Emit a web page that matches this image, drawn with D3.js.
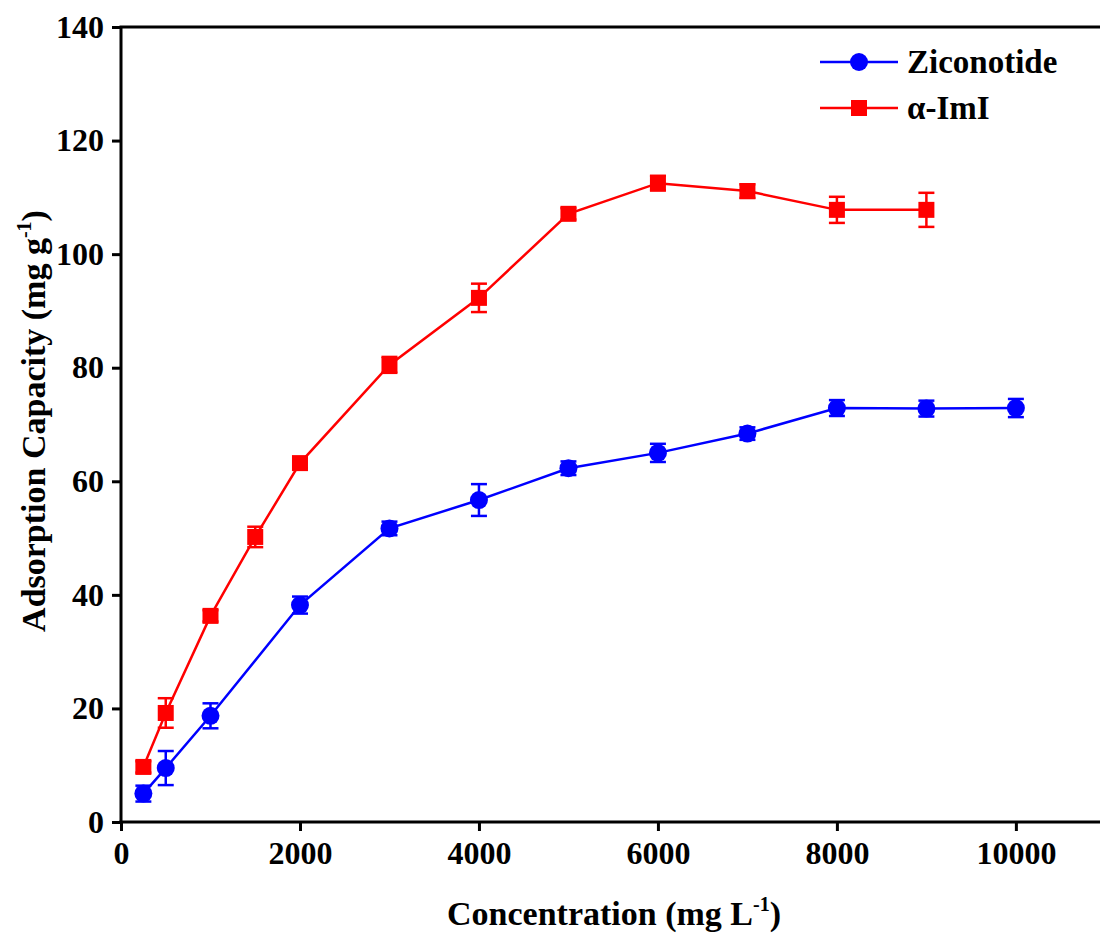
<!DOCTYPE html>
<html>
<head>
<meta charset="utf-8">
<script src="https://cdn.jsdelivr.net/npm/d3@7"></script>
<style>
  body { margin: 0; background: #fff; }
  svg text { font-family: "Liberation Serif", "Times New Roman", serif; font-weight: bold; fill: #000; }
</style>
</head>
<body>
<div id="chart"></div>
<script>
// Data
const zicoX = [250, 500, 1000, 2000, 3000, 4000, 5000, 6000, 7000, 8000, 9000, 10000];
const zicoY = [5.0, 9.5, 18.7, 38.2, 51.7, 56.7, 62.3, 65.0, 68.4, 72.9, 72.8, 72.9];
const zicoErr = [1.4, 3.0, 2.2, 1.5, 1.2, 2.8, 1.2, 1.6, 1.1, 1.4, 1.4, 1.6];

const imiX = [250, 500, 1000, 1500, 2000, 3000, 4000, 5000, 6000, 7000, 8000, 9000];
const imiY = [9.7, 19.2, 36.3, 50.2, 63.2, 80.5, 92.3, 107.1, 112.5, 111.1, 107.8, 107.8];
const imiErr = [1.0, 2.6, 1.0, 1.8, 0.9, 1.4, 2.5, 1.0, 1.3, 1.2, 2.3, 3.0];

const xTicks = [0, 2000, 4000, 6000, 8000, 10000];
const yTicks = [0, 20, 40, 60, 80, 100, 120, 140];

const series = [
  { name: 'Ziconotide', color: '#0000ff', shape: 'circle', x: zicoX, y: zicoY, err: zicoErr },
  { name: '\u03b1-ImI', color: '#ff0000', shape: 'square', x: imiX, y: imiY, err: imiErr }
];

const width = 1100, height = 934;
const svg = d3.select('#chart').append('svg')
  .attr('width', width)
  .attr('height', height);

const x = d3.scaleLinear().domain([0, 10940]).range([121, 1100]);
const y = d3.scaleLinear().domain([0, 140]).range([822, 27]);

// Axes
const xAxis = svg.append('g')
  .attr('transform', `translate(0,${y(0)})`)
  .call(d3.axisBottom(x).tickValues(xTicks).tickFormat(d3.format('d')).tickSizeOuter(0).tickSize(9).tickPadding(10));
const yAxis = svg.append('g')
  .attr('transform', `translate(${x(0)},0)`)
  .call(d3.axisLeft(y).tickValues(yTicks).tickSizeOuter(0).tickSize(9).tickPadding(8));

[xAxis, yAxis].forEach(a => {
  a.select('.domain').attr('stroke', '#000').attr('stroke-width', 3);
  a.selectAll('.tick line').attr('stroke', '#000').attr('stroke-width', 3);
  a.selectAll('.tick text').attr('font-size', 32).attr('fill', '#000')
    .style('font-family', '"Liberation Serif", serif').style('font-weight', 'bold');
  a.attr('font-family', null).attr('font-size', null);
});
xAxis.selectAll('.tick text').attr('dy', '0.72em');
// make domains reach the corner cleanly
xAxis.select('.domain').attr('d', `M${x(0) - 1.5},0H${width}`);
yAxis.select('.domain').attr('d', `M0,${y(0) + 1.5}V${y(140)}`);

// Top frame line
svg.append('line')
  .attr('x1', x(0) - 1.5).attr('x2', width)
  .attr('y1', y(140)).attr('y2', y(140))
  .attr('stroke', '#000').attr('stroke-width', 3);

// Axis titles
const xt = svg.append('text')
  .attr('x', 614).attr('y', 925)
  .attr('text-anchor', 'middle')
  .attr('font-size', 34);
xt.append('tspan').text('Concentration (mg L');
xt.append('tspan').text('-1').attr('font-size', 20).attr('dy', -14);
xt.append('tspan').text(')').attr('dy', 14);

const yt = svg.append('text')
  .attr('transform', 'translate(45,421) rotate(-90)')
  .attr('text-anchor', 'middle')
  .attr('font-size', 34);
yt.append('tspan').text('Adsorption Capacity (mg g');
yt.append('tspan').text('-1').attr('font-size', 20).attr('dy', -14);
yt.append('tspan').text(')').attr('dy', 14);

// Series
const line = d3.line().x(d => x(d.x)).y(d => y(d.y));
const capW = 8;

function drawMarker(g, shape, color, cx, cy) {
  if (shape === 'circle') {
    g.append('circle').attr('cx', cx).attr('cy', cy).attr('r', 9).attr('fill', color);
  } else {
    g.append('rect').attr('x', cx - 8).attr('y', cy - 8).attr('width', 16).attr('height', 16).attr('fill', color);
  }
}

series.forEach(s => {
  const pts = s.x.map((v, i) => ({ x: v, y: s.y[i], e: s.err[i] }));
  const g = svg.append('g');

  g.append('path')
    .datum(pts)
    .attr('d', line)
    .attr('fill', 'none')
    .attr('stroke', s.color)
    .attr('stroke-width', 2.5);

  // error bars
  const eb = g.append('g').attr('stroke', s.color).attr('stroke-width', 2.5);
  pts.forEach(p => {
    const cx = x(p.x), y1 = y(p.y + p.e), y2 = y(p.y - p.e);
    eb.append('line').attr('x1', cx).attr('x2', cx).attr('y1', y1).attr('y2', y2);
    eb.append('line').attr('x1', cx - capW).attr('x2', cx + capW).attr('y1', y1).attr('y2', y1);
    eb.append('line').attr('x1', cx - capW).attr('x2', cx + capW).attr('y1', y2).attr('y2', y2);
  });

  pts.forEach(p => drawMarker(g, s.shape, s.color, x(p.x), y(p.y)));
});

// Legend
const legend = svg.append('g');
series.forEach((s, i) => {
  const ly = 62 + i * 46;
  legend.append('line')
    .attr('x1', 820).attr('x2', 898)
    .attr('y1', ly).attr('y2', ly)
    .attr('stroke', s.color).attr('stroke-width', 2.5);
  drawMarker(legend, s.shape, s.color, 859, ly);
  legend.append('text')
    .attr('x', 907).attr('y', ly + 11)
    .attr('font-size', 33)
    .text(s.name);
});
</script>
</body>
</html>
